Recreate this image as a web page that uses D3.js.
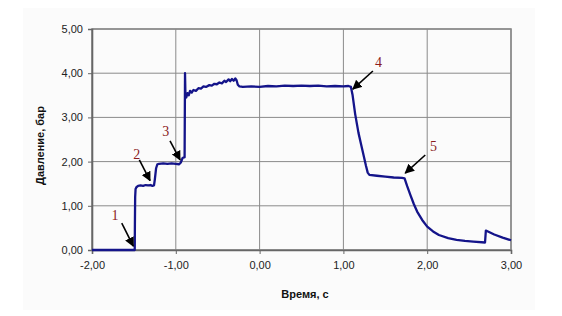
<!DOCTYPE html>
<html>
<head>
<meta charset="utf-8">
<script src="https://cdn.jsdelivr.net/npm/d3@7"></script>
<style>
  html, body { margin: 0; padding: 0; background: #fff; }
  svg { display: block; font-family: "Liberation Sans", Arial, sans-serif; }
</style>
</head>
<body>
<svg id="chart" width="562" height="316"></svg>
<script>
// pressure trace: [time, s ; pressure, bar]
const time = [
  -2.00, -1.49, -1.488, -1.485, -1.48, -1.47, -1.45, -1.42, -1.39, -1.36, -1.33, -1.30, -1.28, -1.26,
  -1.25, -1.235, -1.22, -1.20, -1.15, -1.10, -1.05, -1.00, -0.96, -0.94, -0.92, -0.895,
  -0.89, -0.885, -0.875, -0.86, -0.845, -0.83, -0.81, -0.79, -0.76, -0.73, -0.70, -0.67, -0.64,
  -0.60, -0.57, -0.54, -0.51, -0.48, -0.45, -0.42, -0.40, -0.37, -0.35, -0.33, -0.31, -0.29,
  -0.275, -0.26, -0.24, -0.20, -0.10, 0.00, 0.10, 0.20, 0.30, 0.40, 0.50, 0.60, 0.70, 0.80,
  0.90, 1.00, 1.06, 1.09, 1.11, 1.14, 1.18, 1.21, 1.24, 1.27, 1.29, 1.31, 1.40, 1.50, 1.60,
  1.70, 1.73, 1.76, 1.80, 1.84, 1.88, 1.94, 2.00, 2.07, 2.14, 2.25, 2.35, 2.45, 2.55, 2.69,
  2.70, 2.80, 2.90, 3.00
];
const pressure = [
  0.00, 0.00, 0.60, 1.20, 1.38, 1.42, 1.45, 1.46, 1.45, 1.47, 1.46, 1.47, 1.45, 1.46,
  1.60, 1.85, 1.94, 1.95, 1.96, 1.95, 1.96, 1.95, 1.94, 1.98, 2.08, 2.10,
  4.00, 3.50, 3.45, 3.55, 3.50, 3.60, 3.56, 3.62, 3.60, 3.66, 3.65, 3.70, 3.69,
  3.73, 3.72, 3.76, 3.75, 3.79, 3.77, 3.83, 3.80, 3.86, 3.82, 3.87, 3.83, 3.88,
  3.84, 3.74, 3.70, 3.69, 3.70, 3.69, 3.71, 3.70, 3.72, 3.71, 3.72, 3.71, 3.72, 3.70,
  3.71, 3.70, 3.71, 3.69, 3.50, 3.08, 2.65, 2.40, 2.15, 1.90, 1.75, 1.70, 1.68, 1.66, 1.64,
  1.63, 1.62, 1.45, 1.24, 1.04, 0.87, 0.68, 0.53, 0.42, 0.34, 0.27, 0.23, 0.205, 0.19, 0.17,
  0.44, 0.35, 0.28, 0.22
];

const xTicks = [-2, -1, 0, 1, 2, 3];
const yTicks = [0, 1, 2, 3, 4, 5];

// numbered markers: label position, arrow tail, arrow head (data units)
const markNames = ["1", "2", "3", "4", "5"];
const markLabel = [[-1.725, 0.77], [-1.466, 2.15], [-1.120, 2.68], [1.419, 4.25], [2.076, 2.34]];
const markFrom  = [[-1.645, 0.61], [-1.435, 2.04], [-1.069, 2.47], [1.352, 4.05], [1.977, 2.15]];
const markTo    = [[-1.507, 0.09], [-1.307, 1.57], [-0.949, 2.04], [1.113, 3.64], [1.738, 1.74]];

const fmt = d => d.toFixed(2).replace(".", ",");

const svg = d3.select("#chart");
const margin = {top: 29, right: 51, bottom: 66, left: 92};
const W = 562, H = 316;
const x = d3.scaleLinear().domain([-2, 3]).range([margin.left, W - margin.right]);
const y = d3.scaleLinear().domain([0, 5]).range([H - margin.bottom, margin.top]);

// faint chart area
svg.append("rect").attr("x", 23).attr("y", 8).attr("width", 512).attr("height", 302)
  .attr("fill", "#fbfbfb");

// gridlines
svg.append("g").selectAll("line").data(xTicks).join("line")
  .attr("x1", d => x(d)).attr("x2", d => x(d))
  .attr("y1", y(0)).attr("y2", y(5))
  .attr("stroke", "#8a8a8a").attr("stroke-width", 1);
svg.append("g").selectAll("line").data(yTicks).join("line")
  .attr("x1", x(-2)).attr("x2", x(3))
  .attr("y1", d => y(d)).attr("y2", d => y(d))
  .attr("stroke", "#8a8a8a").attr("stroke-width", 1);

// frame
svg.append("rect")
  .attr("x", x(-2)).attr("y", y(5))
  .attr("width", x(3) - x(-2)).attr("height", y(0) - y(5))
  .attr("fill", "none").attr("stroke", "#8a8a8a").attr("stroke-width", 1.6);

// axes
const yAxis = svg.append("g").attr("transform", `translate(${x(-2)},0)`)
  .call(d3.axisLeft(y).tickValues(yTicks).tickFormat(fmt).tickSize(4).tickPadding(5));
const xAxis = svg.append("g").attr("transform", `translate(0,${y(0)})`)
  .call(d3.axisBottom(x).tickValues(xTicks).tickFormat(fmt).tickSize(4).tickPadding(7));
[yAxis, xAxis].forEach(g => {
  g.select(".domain").attr("stroke", "#666").attr("stroke-width", 1.6);
  g.selectAll(".tick line").attr("stroke", "#666");
  g.selectAll(".tick text").attr("fill", "#222").style("font-size", "11px")
    .style("font-family", "'Liberation Sans', Arial, sans-serif");
});

// trace
const pts = time.map((t, i) => [t, pressure[i]]);
svg.append("path")
  .datum(pts)
  .attr("fill", "none")
  .attr("stroke", "#14148a")
  .attr("stroke-width", 2.3)
  .attr("stroke-linejoin", "round")
  .attr("d", d3.line().x(d => x(d[0])).y(d => y(d[1])));

// arrows
svg.append("defs").append("marker")
  .attr("id", "ah").attr("viewBox", "0 0 10 10")
  .attr("refX", 9).attr("refY", 5)
  .attr("markerWidth", 6).attr("markerHeight", 6)
  .attr("orient", "auto")
  .append("path").attr("d", "M0,0L10,5L0,10z").attr("fill", "#000");

svg.append("g").selectAll("line").data(markNames).join("line")
  .attr("x1", (d, i) => x(markFrom[i][0])).attr("y1", (d, i) => y(markFrom[i][1]))
  .attr("x2", (d, i) => x(markTo[i][0])).attr("y2", (d, i) => y(markTo[i][1]))
  .attr("stroke", "#000").attr("stroke-width", 1.6)
  .attr("marker-end", "url(#ah)");

svg.append("g").selectAll("text").data(markNames).join("text")
  .attr("x", (d, i) => x(markLabel[i][0])).attr("y", (d, i) => y(markLabel[i][1]))
  .attr("text-anchor", "middle").attr("dominant-baseline", "central")
  .style("font-family", "'Liberation Serif', 'Times New Roman', serif")
  .style("font-size", "14px").attr("fill", "#8b1c1c")
  .text(d => d);

// axis titles
svg.append("text")
  .attr("transform", `translate(44,${(y(0) + y(5)) / 2 + 6}) rotate(-90)`)
  .attr("text-anchor", "middle")
  .style("font-size", "11px").style("font-weight", "bold").attr("fill", "#111")
  .text("Давление, бар");
svg.append("text")
  .attr("x", 305).attr("y", 298)
  .attr("text-anchor", "middle")
  .style("font-size", "11px").style("font-weight", "bold").attr("fill", "#111")
  .text("Время, с");
</script>
</body>
</html>
